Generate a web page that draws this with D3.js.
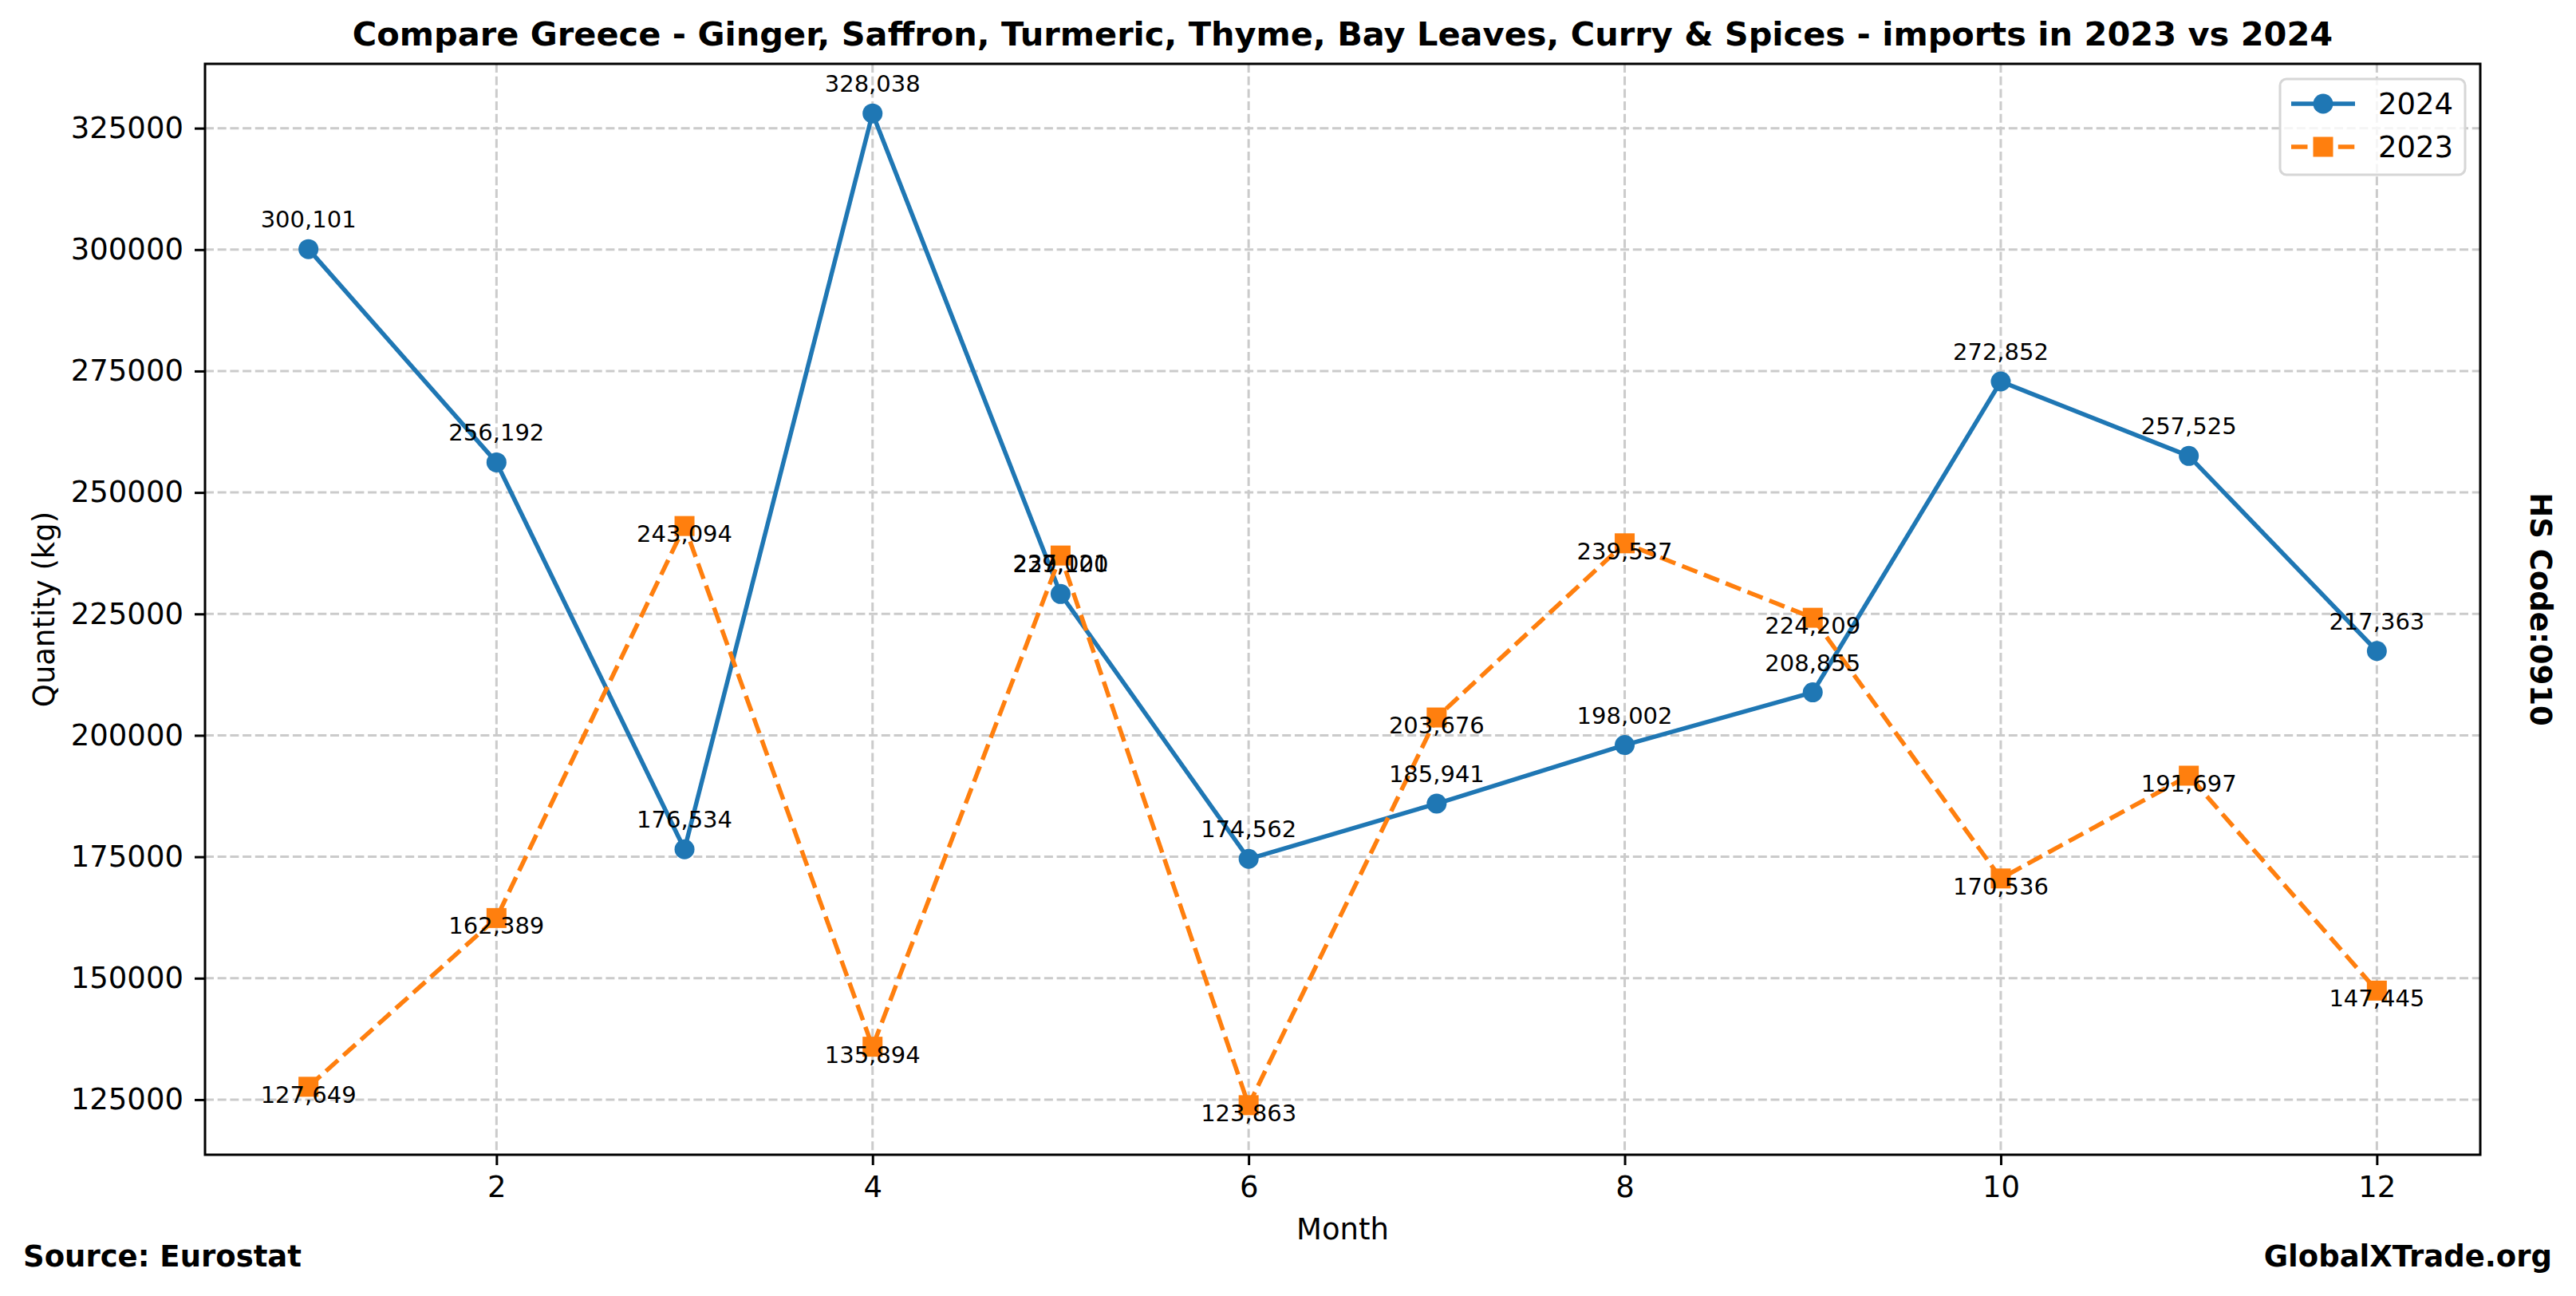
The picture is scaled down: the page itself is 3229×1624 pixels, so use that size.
<!DOCTYPE html>
<html lang="en">
<head>
<meta charset="utf-8">
<title>Compare Greece - Spices imports 2023 vs 2024</title>
<script src="https://d3js.org/d3.v7.min.js"></script>
<style>
    html, body { margin: 0; padding: 0; background: #fff; }
    svg { display: block; font-family: "DejaVu Sans", sans-serif; }
    .grid line { stroke: #cbcbcb; stroke-width: 3; stroke-dasharray: 11 4.7; }
    .axis path, .axis line { stroke: #000; stroke-width: 3; }
    .axis text { font-size: 37px; fill: #000; font-family: "DejaVu Sans", sans-serif; }
    .val { font-size: 29px; fill: #000; }
</style>
</head>
<body>
<svg id="chart"></svg>
<script>
// data
const months = [1, 2, 3, 4, 5, 6, 7, 8, 9, 10, 11, 12];
const qty2024 = [300101, 256192, 176534, 328038, 229100, 174562, 185941, 198002, 208855, 272852, 257525, 217363];
const qty2023 = [127649, 162389, 243094, 135894, 237021, 123863, 203676, 239537, 224209, 170536, 191697, 147445];
const xTicks = [2, 4, 6, 8, 10, 12];
const yTicks = [125000, 150000, 175000, 200000, 225000, 250000, 275000, 300000, 325000];

const width = 3229, height = 1624;
const plot = { left: 257, right: 3109, top: 80, bottom: 1447 };

const svg = d3.select("#chart").attr("width", width).attr("height", height);

// scales, matplotlib style 5% padding
const allVals = qty2024.concat(qty2023);
const yMin = d3.min(allVals), yMax = d3.max(allVals);
const yPad = (yMax - yMin) * 0.05;
const xScale = d3.scaleLinear().domain([1 - 0.55, 12 + 0.55]).range([plot.left, plot.right]);
const yScale = d3.scaleLinear().domain([yMin - yPad, yMax + yPad]).range([plot.bottom, plot.top]);

// grid
svg.append("g").attr("class", "grid")
    .selectAll("line.gx").data(xTicks).enter().append("line")
    .attr("x1", d => xScale(d)).attr("x2", d => xScale(d))
    .attr("y1", plot.top).attr("y2", plot.bottom);
svg.select(".grid")
    .selectAll("line.gy").data(yTicks).enter().append("line")
    .attr("x1", plot.left).attr("x2", plot.right)
    .attr("y1", d => yScale(d)).attr("y2", d => yScale(d));

// axes
const xAxis = d3.axisBottom(xScale).tickValues(xTicks).tickSize(13).tickPadding(14).tickSizeOuter(0);
const yAxis = d3.axisLeft(yScale).tickValues(yTicks).tickSize(13).tickPadding(14).tickSizeOuter(0).tickFormat(d3.format("d"));

svg.append("g").attr("class", "axis")
    .attr("transform", `translate(0,${plot.bottom})`).call(xAxis)
    .select(".domain").remove();
svg.append("g").attr("class", "axis")
    .attr("transform", `translate(${plot.left},0)`).call(yAxis)
    .select(".domain").remove();

svg.append("rect")
    .attr("x", plot.left).attr("y", plot.top)
    .attr("width", plot.right - plot.left).attr("height", plot.bottom - plot.top)
    .attr("fill", "none").attr("stroke", "#000").attr("stroke-width", 3);

// lines
const line = d3.line().x((d, i) => xScale(months[i])).y(d => yScale(d));

svg.append("path").datum(qty2024)
    .attr("d", line).attr("fill", "none")
    .attr("stroke", "#1f77b4").attr("stroke-width", 5.5).attr("stroke-linejoin", "round");
svg.selectAll("circle.p24").data(qty2024).enter().append("circle")
    .attr("cx", (d, i) => xScale(months[i])).attr("cy", d => yScale(d))
    .attr("r", 12.5).attr("fill", "#1f77b4");

svg.append("path").datum(qty2023)
    .attr("d", line).attr("fill", "none")
    .attr("stroke", "#ff7f0e").attr("stroke-width", 5.5)
    .attr("stroke-dasharray", "20.5 8.9").attr("stroke-linejoin", "round");
svg.selectAll("rect.p23").data(qty2023).enter().append("rect")
    .attr("x", (d, i) => xScale(months[i]) - 12.5).attr("y", d => yScale(d) - 12.5)
    .attr("width", 25).attr("height", 25).attr("fill", "#ff7f0e");

// value labels
const fmt = d3.format(",");
svg.selectAll("text.v24").data(qty2024).enter().append("text")
    .attr("class", "val").attr("text-anchor", "middle")
    .attr("x", (d, i) => xScale(months[i])).attr("y", d => yScale(d) - 27)
    .text(d => fmt(d));
svg.selectAll("text.v23").data(qty2023).enter().append("text")
    .attr("class", "val").attr("text-anchor", "middle")
    .attr("x", (d, i) => xScale(months[i])).attr("y", d => yScale(d) + 20)
    .text(d => fmt(d));

// title and labels
svg.append("text")
    .attr("x", (plot.left + plot.right) / 2).attr("y", 57)
    .attr("text-anchor", "middle").attr("font-size", 41.5).attr("font-weight", "bold")
    .text("Compare Greece - Ginger, Saffron, Turmeric, Thyme, Bay Leaves, Curry & Spices - imports in 2023 vs 2024");

svg.append("text")
    .attr("x", (plot.left + plot.right) / 2).attr("y", 1553)
    .attr("text-anchor", "middle").attr("font-size", 37)
    .text("Month");

svg.append("text")
    .attr("transform", `translate(68,${(plot.top + plot.bottom) / 2}) rotate(-90)`)
    .attr("text-anchor", "middle").attr("font-size", 37)
    .text("Quantity (kg)");

svg.append("text")
    .attr("transform", `translate(3172,${(plot.top + plot.bottom) / 2}) rotate(90)`)
    .attr("text-anchor", "middle").attr("font-size", 37).attr("font-weight", "bold")
    .text("HS Code:0910");

svg.append("text")
    .attr("x", 29).attr("y", 1587)
    .attr("font-size", 37).attr("font-weight", "bold")
    .text("Source: Eurostat");

svg.append("text")
    .attr("x", 3199).attr("y", 1587).attr("text-anchor", "end")
    .attr("font-size", 37).attr("font-weight", "bold")
    .text("GlobalXTrade.org");

// legend
const legend = svg.append("g").attr("transform", "translate(2858,99)");
legend.append("rect")
    .attr("width", 232).attr("height", 120).attr("rx", 8)
    .attr("fill", "#fff").attr("fill-opacity", 0.8)
    .attr("stroke", "#d6d6d6").attr("stroke-width", 3);

const leg24 = legend.append("g").attr("transform", "translate(0,31)");
leg24.append("line").attr("x1", 14).attr("x2", 94)
    .attr("stroke", "#1f77b4").attr("stroke-width", 5.5);
leg24.append("circle").attr("cx", 54).attr("r", 12.5).attr("fill", "#1f77b4");
leg24.append("text").attr("x", 123).attr("y", 13).attr("font-size", 37).text("2024");

const leg23 = legend.append("g").attr("transform", "translate(0,85)");
leg23.append("line").attr("x1", 14).attr("x2", 94)
    .attr("stroke", "#ff7f0e").attr("stroke-width", 5.5).attr("stroke-dasharray", "20.5 8.9");
leg23.append("rect").attr("x", 41.5).attr("y", -12.5).attr("width", 25).attr("height", 25).attr("fill", "#ff7f0e");
leg23.append("text").attr("x", 123).attr("y", 13).attr("font-size", 37).text("2023");
</script>
</body>
</html>
